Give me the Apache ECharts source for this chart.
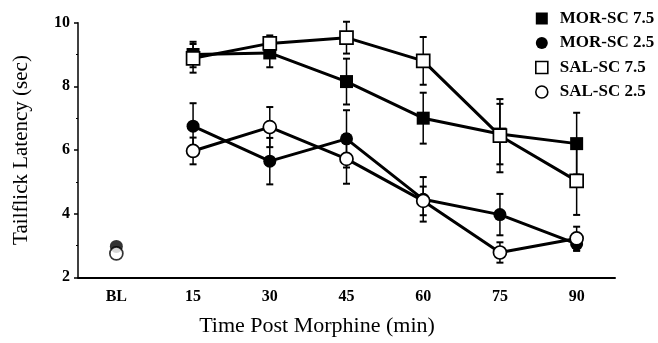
<!DOCTYPE html>
<html>
<head>
<meta charset="utf-8">
<script src="https://cdn.jsdelivr.net/npm/echarts@6/dist/echarts.min.js"></script>
<style>
  html, body { margin: 0; padding: 0; background: #fff; }
  #chart { width: 658px; height: 343px; }
</style>
</head>
<body>
<div id="chart"></div>
<script>
// time points (BL = baseline)
const categories = ['BL', '15', '30', '45', '60', '75', '90'];

// group means (null = not shown)
const morSc75 = [null, 9.0, 9.05, 8.15, 7.0, 6.5, 6.2];
const morSc25 = [2.97, 6.75, 5.65, 6.35, 4.45, 3.97, 3.05];
const salSc75 = [null, 8.88, 9.35, 9.53, 8.8, 6.45, 5.03];
const salSc25 = [2.75, 5.97, 6.72, 5.72, 4.4, 2.78, 3.22];

// error bar half-widths
const morSc75Sem = [0, 0.4, 0.45, 0.72, 0.8, 0.95, 0.97];
const morSc25Sem = [0, 0.72, 0.73, 0.9, 0.7, 0.65, 0.22];
const salSc75Sem = [0, 0.45, 0.25, 0.5, 0.75, 1.15, 1.07];
const salSc25Sem = [0, 0.42, 0.63, 0.78, 0.45, 0.32, 0.37];

const yTicks = [2, 4, 6, 8, 10];

const FONT = "'Liberation Serif', 'DejaVu Serif', serif";

const groups = [
  { name: 'MOR-SC 7.5', values: morSc75, sem: morSc75Sem, symbol: 'rect', fill: '#000', z: 3 },
  { name: 'MOR-SC 2.5', values: morSc25, sem: morSc25Sem, symbol: 'circle', fill: '#000', z: 4 },
  { name: 'SAL-SC 7.5', values: salSc75, sem: salSc75Sem, symbol: 'rect', fill: '#fff', z: 5 },
  { name: 'SAL-SC 2.5', values: salSc25, sem: salSc25Sem, symbol: 'circle', fill: '#fff', z: 6 },
];

function renderErrorBar(params, api) {
  const x = api.value(0);
  const lo = api.coord([x, api.value(1)]);
  const hi = api.coord([x, api.value(2)]);
  const w = 3.5;
  return {
    type: 'group',
    children: [
      { type: 'line', shape: { x1: lo[0], y1: lo[1], x2: hi[0], y2: hi[1] }, style: { stroke: '#000', lineWidth: 1.5 } },
      { type: 'line', shape: { x1: lo[0] - w, y1: lo[1], x2: lo[0] + w, y2: lo[1] }, style: { stroke: '#000', lineWidth: 2 } },
      { type: 'line', shape: { x1: hi[0] - w, y1: hi[1], x2: hi[0] + w, y2: hi[1] }, style: { stroke: '#000', lineWidth: 2 } },
    ],
  };
}

const series = [];

groups.forEach((g) => {
  const itemStyle = g.fill === '#fff'
    ? { color: '#fff', borderColor: '#000', borderWidth: 1.7 }
    : { color: '#000', borderColor: '#000', borderWidth: 0 };

  // error bars (behind markers)
  const bars = [];
  g.values.forEach((v, i) => {
    if (v == null || !g.sem[i]) return;
    bars.push([i, v - g.sem[i], v + g.sem[i]]);
  });
  series.push({
    type: 'custom',
    name: g.name,
    renderItem: renderErrorBar,
    data: bars,
    z: 1,
    silent: true,
  });

  // time course line, baseline not connected
  series.push({
    type: 'line',
    name: g.name,
    data: g.values.map((v, i) => (i === 0 || v == null ? '-' : v)),
    symbol: g.symbol,
    symbolSize: 13,
    showAllSymbol: true,
    lineStyle: { color: '#000', width: 3 },
    itemStyle,
    z: g.z,
  });

  // baseline point
  if (g.values[0] != null) {
    series.push({
      type: 'scatter',
      name: g.name,
      data: [[0, g.values[0]]],
      symbol: g.symbol,
      symbolSize: 13,
      itemStyle,
      z: g.z,
    });
  }
});

const chart = echarts.init(document.getElementById('chart'));

chart.setOption({
  animation: false,
  backgroundColor: '#fff',
  grid: { left: 78, right: 43, top: 22.7, bottom: 65.7 },
  legend: {
    orient: 'vertical',
    left: 535,
    top: 10,
    padding: 0,
    itemWidth: 12,
    itemHeight: 12,
    itemGap: 7.5,
    selectedMode: false,
    textStyle: { fontFamily: FONT, fontWeight: 'bold', fontSize: 17, color: '#000', padding: [0, 0, 0, 7] },
    data: groups.map((g) => ({
      name: g.name,
      icon: g.symbol,
      itemStyle: g.fill === '#fff'
        ? { color: '#fff', borderColor: '#000', borderWidth: 1.6 }
        : { color: '#000', borderWidth: 0 },
    })),
  },
  xAxis: {
    type: 'category',
    data: categories,
    boundaryGap: true,
    name: 'Time Post Morphine (min)',
    nameLocation: 'middle',
    nameGap: 38,
    nameTextStyle: { fontFamily: FONT, fontSize: 22, color: '#000', padding: [0, 59, 0, 0] },
    axisLine: { lineStyle: { color: '#000', width: 2 } },
    axisTick: { alignWithLabel: true, length: 5, lineStyle: { color: '#000', width: 1.5 } },
    axisLabel: { fontFamily: FONT, fontWeight: 'bold', fontSize: 16, color: '#000', margin: 12 },
    splitLine: { show: false },
  },
  yAxis: {
    type: 'value',
    min: yTicks[0],
    max: yTicks[yTicks.length - 1],
    interval: 2,
    name: 'Tailflick Latency (sec)',
    nameLocation: 'middle',
    nameRotate: 90,
    nameGap: 46,
    nameTextStyle: { fontFamily: FONT, fontSize: 21, color: '#000' },
    axisLine: { show: true, lineStyle: { color: '#000', width: 1.5 } },
    axisTick: { show: true, length: 4, lineStyle: { color: '#000', width: 1.5 } },
    minorTick: { show: true, splitNumber: 2, length: 2, lineStyle: { color: '#000', width: 1 } },
    axisLabel: { fontFamily: FONT, fontWeight: 'bold', fontSize: 16, color: '#000', margin: 8 },
    splitLine: { show: false },
  },
  series,
});
</script>
</body>
</html>
